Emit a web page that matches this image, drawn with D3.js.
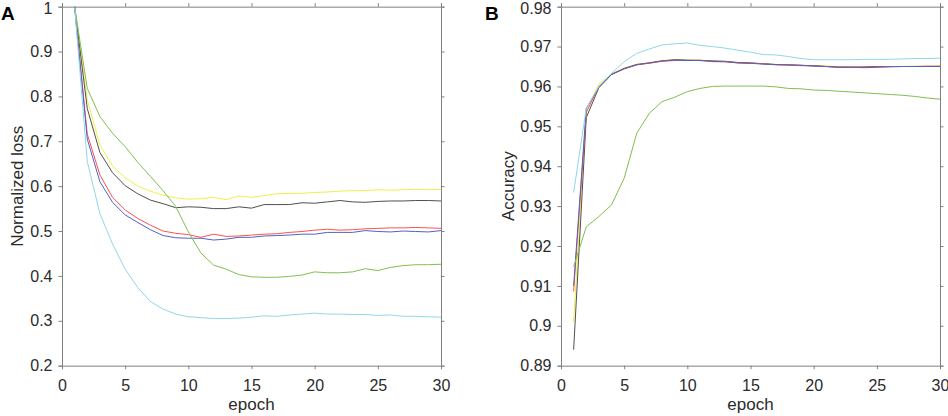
<!DOCTYPE html>
<html>
<head>
<meta charset="utf-8">
<script src="https://cdn.jsdelivr.net/npm/d3@7/dist/d3.min.js"></script>
<style>
  html, body { margin: 0; padding: 0; background: #fff; }
  svg { display: block; font-family: "Liberation Sans", Arial, Helvetica, sans-serif; }
</style>
</head>
<body>
<svg id="chart" width="948" height="416"></svg>
<script>
// ---------- data ----------
const epochs = d3.range(1, 31);

const seriesNames = ["yellow", "black", "red", "blue", "green", "cyan"];
const seriesColors = ["#f0f048", "#4f4f4f", "#ff5050", "#5062c4", "#80c050", "#8ed8e8"];

// Panel A: normalized loss
const lossYellow = [1.0,0.792,0.692,0.645,0.619,0.600,0.589,0.580,0.574,0.571,0.572,0.575,0.570,0.578,0.575,0.579,0.583,0.584,0.584,0.586,0.587,0.589,0.590,0.590,0.592,0.591,0.592,0.593,0.592,0.593];
const lossBlack  = [1.0,0.773,0.675,0.630,0.601,0.583,0.569,0.561,0.552,0.554,0.553,0.550,0.550,0.554,0.551,0.559,0.559,0.559,0.563,0.562,0.565,0.568,0.565,0.564,0.566,0.567,0.567,0.568,0.568,0.567];
const lossRed    = [1.0,0.716,0.625,0.575,0.547,0.528,0.513,0.500,0.495,0.492,0.486,0.493,0.488,0.489,0.491,0.493,0.494,0.497,0.499,0.502,0.504,0.502,0.503,0.505,0.506,0.507,0.507,0.508,0.507,0.506];
const lossBlue   = [1.0,0.705,0.610,0.564,0.536,0.519,0.503,0.490,0.485,0.484,0.484,0.480,0.482,0.486,0.486,0.489,0.490,0.491,0.493,0.493,0.497,0.497,0.497,0.501,0.499,0.498,0.500,0.499,0.498,0.501];
const lossGreen  = [1.0,0.818,0.755,0.718,0.688,0.653,0.622,0.590,0.555,0.498,0.451,0.424,0.415,0.403,0.398,0.397,0.397,0.399,0.402,0.409,0.407,0.407,0.409,0.416,0.412,0.419,0.423,0.425,0.425,0.426];
const lossCyan   = [1.0,0.655,0.539,0.471,0.415,0.374,0.343,0.326,0.315,0.309,0.307,0.305,0.305,0.306,0.308,0.311,0.310,0.313,0.315,0.317,0.315,0.315,0.314,0.314,0.312,0.313,0.310,0.310,0.309,0.308];

// Panel B: accuracy
const accYellow = [0.9010,0.9540,0.9606,0.9632,0.9646,0.9656,0.9660,0.9665,0.9667,0.9666,0.9666,0.9664,0.9663,0.9660,0.9659,0.9657,0.9655,0.9654,0.9653,0.9652,0.9651,0.9650,0.9649,0.9649,0.9650,0.9650,0.9650,0.9651,0.9650,0.9651];
const accBlack  = [0.8940,0.9522,0.9597,0.9630,0.9644,0.9654,0.9659,0.9664,0.9667,0.9666,0.9665,0.9664,0.9663,0.9660,0.9659,0.9657,0.9655,0.9654,0.9653,0.9651,0.9650,0.9648,0.9648,0.9649,0.9650,0.9650,0.9650,0.9650,0.9650,0.9650];
const accRed    = [0.9086,0.9535,0.9600,0.9631,0.9645,0.9655,0.9658,0.9663,0.9665,0.9665,0.9666,0.9662,0.9662,0.9659,0.9658,0.9657,0.9654,0.9654,0.9652,0.9652,0.9650,0.9649,0.9649,0.9648,0.9649,0.9650,0.9650,0.9650,0.9651,0.9651];
const accBlue   = [0.9100,0.9545,0.9598,0.9630,0.9645,0.9655,0.9659,0.9664,0.9666,0.9665,0.9665,0.9663,0.9662,0.9659,0.9658,0.9656,0.9655,0.9654,0.9653,0.9652,0.9650,0.9648,0.9648,0.9647,0.9648,0.9649,0.9650,0.9650,0.9650,0.9650];
const accGreen  = [0.9148,0.9248,0.9274,0.9303,0.9370,0.9483,0.9533,0.9562,0.9573,0.9587,0.9595,0.9600,0.9601,0.9601,0.9601,0.9601,0.9599,0.9595,0.9594,0.9591,0.9590,0.9588,0.9586,0.9584,0.9582,0.9580,0.9578,0.9575,0.9571,0.9568];
const accCyan   = [0.9334,0.9545,0.9600,0.9633,0.9662,0.9683,0.9694,0.9704,0.9707,0.9709,0.9703,0.9700,0.9696,0.9691,0.9686,0.9680,0.9679,0.9675,0.9670,0.9667,0.9667,0.9667,0.9667,0.9668,0.9668,0.9668,0.9669,0.9670,0.9670,0.9671];

const xTicks = [0, 5, 10, 15, 20, 25, 30];
const lossTicks = [0.2, 0.3, 0.4, 0.5, 0.6, 0.7, 0.8, 0.9, 1];
const accTicks = [0.89, 0.9, 0.91, 0.92, 0.93, 0.94, 0.95, 0.96, 0.97, 0.98];

const panels = [
  { label: "A", ylabel: "Normalized loss", domain: [0.2, 1], ticks: lossTicks,
    series: [lossYellow, lossBlack, lossRed, lossBlue, lossGreen, lossCyan],
    left: 62, labelX: 1, ylabX: 17 },
  { label: "B", ylabel: "Accuracy", domain: [0.89, 0.98], ticks: accTicks,
    series: [accYellow, accBlack, accRed, accBlue, accGreen, accCyan],
    left: 561, labelX: 485, ylabX: 508 }
];

// ---------- drawing ----------
const svg = d3.select("#chart");
const plotW = 379, plotTop = 6.67, plotBottom = 365.67;
const axisColor = "#808080", textColor = "#2b2b2b";
const tickLen = 3.5;

panels.forEach(p => {
  const x = d3.scaleLinear().domain([0, 30]).range([p.left, p.left + plotW]);
  const y = d3.scaleLinear().domain(p.domain).range([plotBottom, plotTop]);
  const g = svg.append("g");

  const line = d3.line().x((d, i) => x(epochs[i])).y(d => y(d));
  p.series.forEach((s, k) => {
    g.append("path").datum(s)
      .attr("d", line)
      .attr("fill", "none")
      .attr("stroke", seriesColors[k])
      .attr("stroke-width", 1)
      .attr("stroke-linejoin", "round");
  });

  const fmt = d => String(+d.toFixed(2));

  const axB = g.append("g").attr("transform", `translate(0,${plotBottom})`)
    .call(d3.axisBottom(x).tickValues(xTicks).tickSize(tickLen).tickPadding(10).tickFormat(d3.format("d")));
  const axT = g.append("g").attr("transform", `translate(0,${plotTop})`)
    .call(d3.axisTop(x).tickValues(xTicks).tickSize(tickLen).tickFormat(""));
  const axL = g.append("g").attr("transform", `translate(${p.left},0)`)
    .call(d3.axisLeft(y).tickValues(p.ticks).tickSize(tickLen).tickPadding(6).tickFormat(fmt));
  const axR = g.append("g").attr("transform", `translate(${p.left + plotW},0)`)
    .call(d3.axisRight(y).tickValues(p.ticks).tickSize(tickLen).tickFormat(""));

  [axB, axT, axL, axR].forEach(a => {
    a.select(".domain").attr("stroke", axisColor).attr("stroke-width", 1);
    a.selectAll(".tick line").attr("stroke", axisColor).attr("stroke-width", 1);
    a.selectAll(".tick text").attr("fill", textColor).style("font-size", "16px")
      .style("font-family", "'Liberation Sans', Arial, sans-serif");
  });
  // keep the topmost tick label fully inside the picture
  axL.selectAll(".tick text").filter(d => d === p.domain[1]).attr("y", 1.5);

  g.append("text")
    .attr("x", p.left + plotW / 2).attr("y", 410)
    .attr("text-anchor", "middle").attr("fill", textColor)
    .style("font-size", "17px").text("epoch");
  g.append("text")
    .attr("transform", `translate(${p.ylabX},${(plotTop + plotBottom) / 2}) rotate(-90)`)
    .attr("text-anchor", "middle").attr("dominant-baseline", "central")
    .attr("fill", textColor).style("font-size", "17px").text(p.ylabel);

  g.append("text")
    .attr("x", p.labelX).attr("y", 20)
    .attr("fill", "#000").style("font-size", "19px").style("font-weight", "bold")
    .text(p.label);
});
</script>
</body>
</html>
